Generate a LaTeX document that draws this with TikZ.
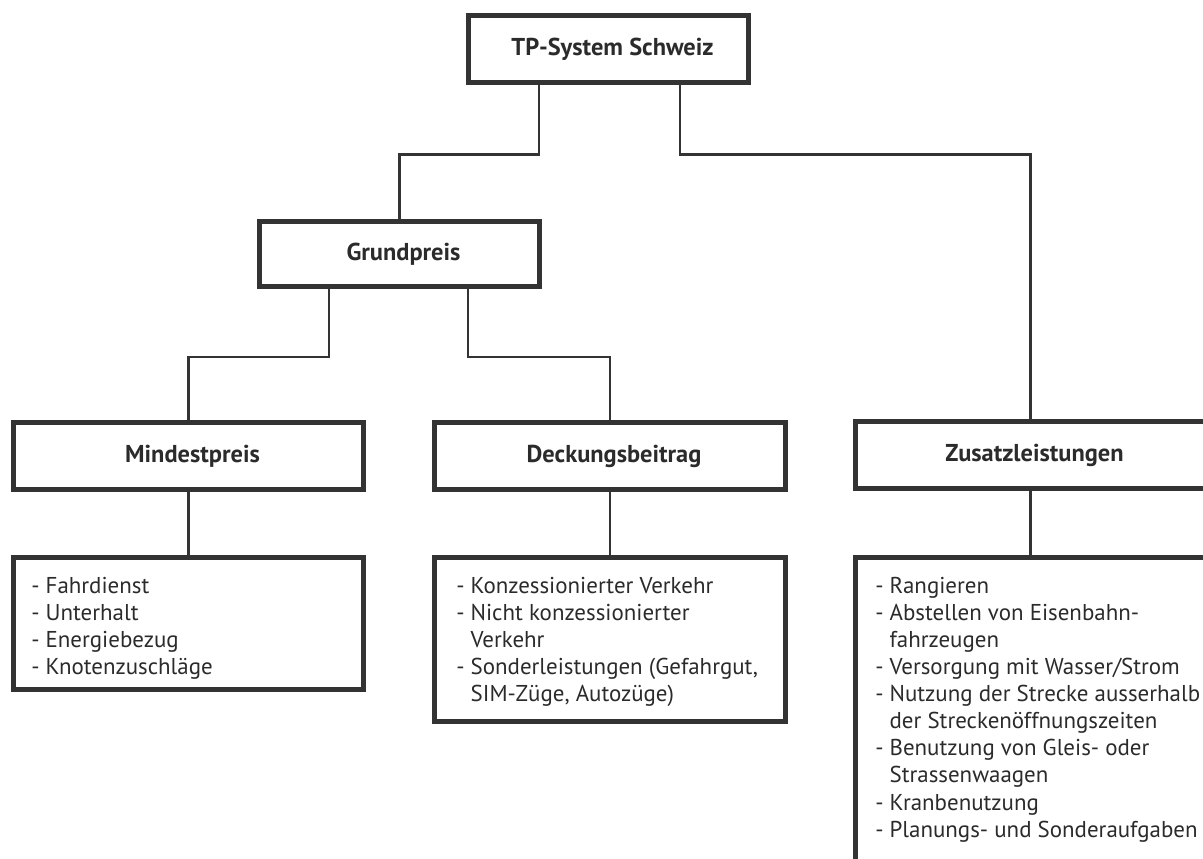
\documentclass[tikz,border=0pt]{standalone}
\usepackage{fontspec}
\setmainfont{PT Sans}
\definecolor{lc}{HTML}{333333}
\definecolor{tc}{HTML}{2B2B2B}
\begin{document}
\begin{tikzpicture}[x=0.75pt,y=-0.75pt,
  box/.style={draw=lc,line width=3.75pt,fill=white,inner sep=0pt,text=tc,font=\bfseries\fontsize{18.3}{21}\selectfont,execute at begin node={\hspace*{6pt}}},
  listbox/.style={draw=lc,line width=3.75pt,fill=white,inner sep=0pt},
  listtext/.style={anchor=north west,inner sep=0pt,align=left,text=tc,font=\fontsize{17.2}{20.3}\selectfont},
  conn/.style={draw=lc,line width=1.6pt}]
\useasboundingbox (0,0) rectangle (1203,859);
\clip (0,0) rectangle (1203,859);
% boxes
\node[box,minimum width=210pt,minimum height=50.25pt] (tp) at (608.5,49) {TP-System Schweiz};
\node[box,minimum width=210pt,minimum height=48.75pt] (grund) at (399.5,254) {Grundpreis};
\node[box,minimum width=262.5pt,minimum height=50.25pt] (mind) at (188.5,456) {Mindestpreis};
\node[box,minimum width=263.25pt,minimum height=50.25pt] (deck) at (610,456) {Deckungsbeitrag};
\node[box,minimum width=262.5pt,minimum height=50.25pt] (zus) at (1030.5,455) {Zusatzleistungen};
% list boxes
\node[listbox,minimum width=262.5pt,minimum height=99pt] (mlist) at (188.5,623.5) {};
\node[listbox,minimum width=263.25pt,minimum height=123pt] (dlist) at (610,639.5) {};
\node[listbox,minimum width=262.5pt,minimum height=247.5pt] (zlist) at (1030.5,722.5) {};
% list texts
\node[listtext] (mt) at (31,577) {- Fahrdienst\\- Unterhalt\\- Energiebezug\\- Knotenzuschläge};
\node[listtext] (dt) at (456,577) {- Konzessionierter Verkehr\\- Nicht konzessionierter\\\phantom{- }Verkehr\\- Sonderleistungen (Gefahrgut,\\\phantom{- }SIM-Züge, Autozüge)};
\node[listtext] (zt) at (875,577) {- Rangieren\\- Abstellen von Eisenbahn-\\\phantom{- }fahrzeugen\\- Versorgung mit Wasser/Strom\\- Nutzung der Strecke ausserhalb\\\phantom{- }der Streckenöffnungszeiten\\- Benutzung von Gleis- oder\\\phantom{- }Strassenwaagen\\- Kranbenutzung\\- Planungs- und Sonderaufgaben};
% connectors
\draw[conn] ([xshift=-52.125pt]tp.south) -- ++(0,69.5) -| (grund.north);
\draw[conn] ([xshift=53.625pt]tp.south) -- ++(0,69.5) -| (zus.north);
\draw[conn] ([xshift=-52.875pt]grund.south) -- ++(0,68) -| (mind.north);
\draw[conn] ([xshift=51.375pt]grund.south) -- ++(0,68) -| (deck.north);
\draw[conn] (mind.south) -- (mlist.north);
\draw[conn] (deck.south) -- (dlist.north);
\draw[conn] (zus.south) -- (zlist.north);
\end{tikzpicture}
\end{document}
